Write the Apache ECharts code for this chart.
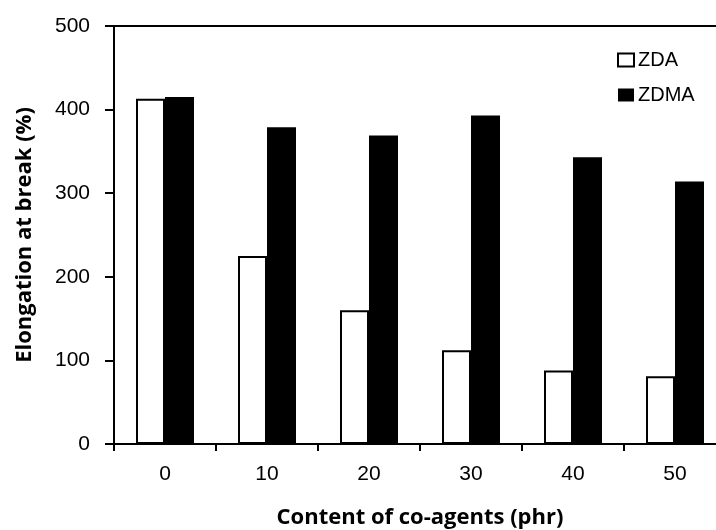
<!DOCTYPE html>
<html><head><meta charset="utf-8">
<script src="https://cdn.jsdelivr.net/npm/echarts@6/dist/echarts.min.js"></script>
<style>html,body{margin:0;padding:0;background:#fff}#c{width:716px;height:530px}</style>
</head><body><div id="c"></div>
<script>
const categories = ['0','10','20','30','40','50'];
const zda = [413, 225, 160, 112, 88, 81];
const zdma = [415, 379, 369, 393, 343, 314];
const yTicks = [0, 100, 200, 300, 400, 500];

const chart = echarts.init(document.getElementById('c'));
const font = 'Liberation Sans';
const titleStyle = { fontFamily: 'Open Sans', fontWeight: 'bold', fontSize: 22, color: '#000' };
chart.setOption({
  animation: false,
  backgroundColor: '#fff',
  grid: { left: 114, top: 26, height: 418, width: 612, outerBoundsMode: 'none', containLabel: false },
  legend: {
    orient: 'vertical', left: 617, top: 50, padding: 0,
    icon: 'rect', itemWidth: 16, itemHeight: 13, itemGap: 15,
    textStyle: { fontFamily: font, fontSize: 20, color: '#000', padding: [0,0,0,-1] },
    data: ['ZDA', 'ZDMA']
  },
  xAxis: [{
    type: 'category', data: categories, position: 'bottom',
    name: 'Content of co-agents (phr)', nameLocation: 'middle', nameGap: 63,
    nameTextStyle: titleStyle,
    axisLine: { lineStyle: { color: '#000', width: 2 } },
    axisTick: { show: true, length: 7, inside: false, lineStyle: { color: '#000', width: 2 } },
    axisLabel: { fontFamily: font, fontSize: 21, color: '#000', margin: 20 }
  }, {
    type: 'category', data: categories, position: 'top',
    axisLine: { show: true, lineStyle: { color: '#000', width: 2 } },
    axisTick: { show: false }, axisLabel: { show: false }
  }],
  yAxis: {
    type: 'value', min: yTicks[0], max: yTicks[yTicks.length-1], interval: 100,
    name: 'Elongation at break (%)', nameLocation: 'middle', nameGap: 78, nameRotate: 90,
    nameTextStyle: titleStyle,
    axisLine: { show: true, lineStyle: { color: '#000', width: 2 } },
    axisTick: { show: true, length: 9, lineStyle: { color: '#000', width: 2 } },
    axisLabel: { fontFamily: font, fontSize: 21, color: '#000', margin: 24 },
    splitLine: { show: false }
  },
  series: [{
    name: 'ZDA', type: 'bar', data: zda, barWidth: 29, barGap: '0%',
    itemStyle: { color: '#fff', borderColor: '#000', borderWidth: 2 }
  }, {
    name: 'ZDMA', type: 'bar', data: zdma, barWidth: 29,
    itemStyle: { color: '#000', borderColor: '#000', borderWidth: 0 }
  }]
});
</script></body></html>
